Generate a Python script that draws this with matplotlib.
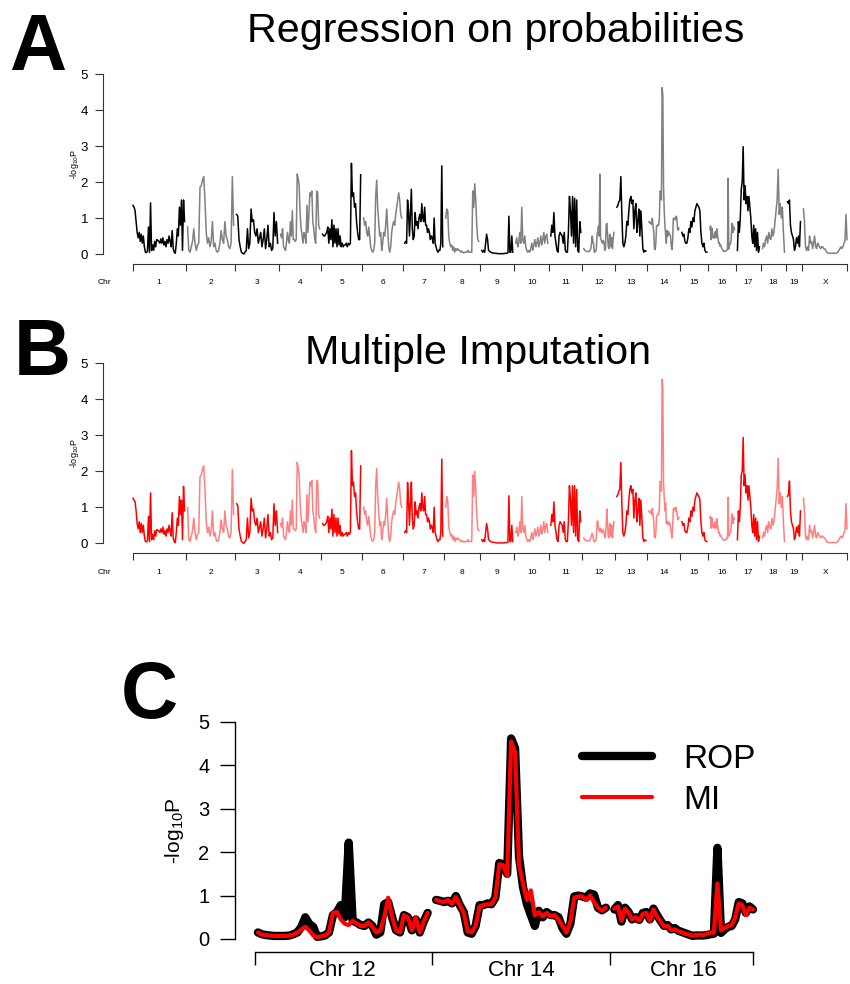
import matplotlib
matplotlib.use("Agg")
import matplotlib.pyplot as plt
import numpy as np

plt.rcParams["font.family"] = ["Liberation Sans", "DejaVu Sans"]
plt.rcParams["mathtext.default"] = "regular"

W, H = 850, 984

CHROMS = ["1", "2", "3", "4", "5", "6", "7", "8", "9", "10",
          "11", "12", "13", "14", "15", "16", "17", "18", "19", "X"]
CHR_LEN = [103, 92, 82, 78, 76, 76, 76, 66, 62, 64,
           60, 60, 58, 60, 50, 49, 44, 44, 26, 87]
GAP = 6

# -log10 P, regression on probabilities (ROP)
rop_1 = [1.35, 1.3, 1.2, 0.9, 0.6, 0.45, 0.6, 0.35, 0.55, 0.3, 0.5, 0.2, 0.05, 0.04, 0.08, 0.75, 0.05,
         1.42, 0.1, 0.25, 0.1, 0.35, 0.2, 0.4, 0.38, 0.35, 0.3, 0.42, 0.3, 0.45, 0.25, 0.35, 0.2, 0.4,
         0.3, 0.5, 0.35, 0.2, 0.65, 0.15, 0.05, 0.02, 0.3, 0.7, 0.5, 1.3, 0.8, 1.5, 0.1, 1.5, 0.9]
rop_2 = [0.75, 0.1, 0.05, 0.2, 0.35, 0.7, 0.3, 0.1, 0.25, 0.3, 1.85, 1.9, 2.05, 2.15, 1.5, 0.6, 0.3,
         0.45, 0.2, 0.35, 0.9, 0.2, 0.3, 0.1, 0.05, 0.1, 0.3, 0.65, 0.4, 0.3, 0.9, 0.5, 0.4, 0.2, 0.15,
         0.3, 2.15, 0.8]
rop_3 = [1.1, 1.05, 0.4, 0.2, 0.05, 0.02, 0.0, 0.05, 0.1, 0.7, 0.15, 0.3, 1.25, 0.9, 0.95, 0.6, 0.5,
         0.7, 0.3, 0.45, 0.6, 0.2, 0.4, 0.7, 0.15, 0.4, 0.8, 0.2, 0.3, 0.1, 0.15, 1.15, 0.5, 0.9, 0.3]
rop_4 = [0.55, 0.45, 0.7, 0.2, 0.15, 0.1, 0.3, 0.6, 0.4, 0.3, 0.9, 0.5, 1.2, 0.4, 0.4, 0.35, 0.4,
         2.22, 2.1, 1.9, 1.1, 0.7, 0.5, 0.3, 0.6, 0.5, 0.3, 1.35, 0.6, 1.1, 1.7, 1.6, 1.75, 0.9, 0.7,
         0.4, 0.3, 1.75, 1.7, 0.8, 0.7]
rop_5 = [0.55, 0.5, 0.5, 0.55, 0.6, 0.75, 0.3, 0.7, 0.4, 0.95, 0.2, 0.8, 0.3, 0.7, 0.2, 0.7, 0.25,
         0.5, 0.2, 0.3, 0.2, 0.25, 0.25, 0.3, 0.2, 0.3, 0.25, 0.3, 2.52, 1.6, 1.7, 1.3, 1.4, 0.9, 0.6,
         0.4, 0.4, 2.2]
rop_6 = [1.0, 0.8, 0.9, 0.6, 0.5, 0.75, 0.5, 0.2, 0.1, 0.05, 0.1, 0.3, 1.6, 2.05, 1.3, 0.9, 0.5, 0.6,
         0.1, 0.3, 0.6, 0.5, 0.8, 1.25, 0.7, 0.2, 0.05, 0.2, 0.6, 0.8, 0.9, 0.8, 1.1, 1.3, 1.5, 1.7,
         1.5, 1.1, 1.0]
rop_7 = [0.3, 0.35, 0.3, 1.5, 1.2, 0.5, 1.1, 1.8, 0.7, 0.4, 0.5, 1.15, 0.8, 0.9, 0.7, 1.0, 1.1, 0.9,
         1.4, 1.0, 0.9, 1.3, 0.8, 0.8, 0.6, 0.7, 0.6, 0.4, 0.5, 0.45, 0.3, 1.0, 0.3, 0.2, 0.1, 0.05,
         0.1, 0.1, 0.3, 2.45, 0.2]
rop_8 = [1.0, 1.25, 1.2, 0.5, 0.3, 0.2, 0.25, 0.1, 0.2, 0.05, 0.15, 0.1, 0.15, 0.1, 0.1, 0.05, 0.08,
         0.05, 0.03, 0.05, 0.05, 0.05, 0.1, 0.05, 0.06, 0.05, 0.05, 1.75, 1.3, 1.95, 1.5, 0.8, 0.4, 0.35]
rop_9 = [0.1, 0.05, 0.1, 0.05, 0.3, 0.55, 0.4, 0.1, 0.08, 0.05, 0.04, 0.03, 0.03, 0.02, 0.02, 0.02,
         0.01, 0.01, 0.01, 0.01, 0.01, 0.01, 0.01, 0.01, 0.02, 0.02, 0.02, 0.03, 1.05, 0.05, 0.05, 0.5, 0.05]
rop_10 = [0.3, 0.45, 0.2, 0.3, 0.6, 0.3, 1.3, 0.4, 0.3, 0.5, 0.2, 0.1, 0.05, 0.1, 0.05, 0.15, 0.3, 0.1,
          0.25, 0.4, 0.2, 0.3, 0.45, 0.2, 0.3, 0.5, 0.25, 0.4, 0.6, 0.3, 0.5, 0.55, 0.3]
rop_11 = [0.5, 0.8, 0.6, 1.15, 0.5, 0.3, 0.1, 0.05, 0.5, 0.6, 0.55, 0.5, 0.3, 0.6, 0.1, 0.05, 0.05,
          0.6, 1.6, 1.2, 0.5, 1.6, 0.3, 1.55, 0.2, 1.5, 0.1, 0.05, 0.9, 0.6]
rop_12 = [0.15, 0.11, 0.09, 0.08, 0.07, 0.07, 0.07, 0.07, 0.08, 0.11, 0.15, 0.28, 0.5, 0.35, 0.28,
          0.05, 0.06, 0.08, 0.15, 0.55, 0.62, 0.78, 0.5, 2.22, 0.42, 0.38, 0.32, 0.3, 0.38, 0.3, 0.1,
          0.15, 0.8, 0.85, 0.5, 0.2, 0.15, 0.55, 0.5, 0.2, 0.45, 0.15, 0.4, 0.6]
rop_13 = [1.3, 1.35, 1.45, 1.5, 2.15, 1.1, 0.3, 0.2, 0.3, 0.5, 0.9, 0.8, 1.2, 1.5, 1.6, 1.4, 1.5, 0.7,
          1.2, 1.4, 0.6, 0.9, 1.25, 0.5, 1.2, 0.7, 0.15, 0.05, 0.1, 0.08]
rop_14 = [0.9, 0.88, 0.85, 0.88, 0.82, 0.99, 0.78, 0.62, 0.15, 0.12, 0.3, 0.78, 0.78, 0.82, 0.8, 0.95,
          1.75, 1.72, 1.5, 4.62, 4.4, 1.9, 1.2, 0.8, 0.55, 0.3, 0.65, 0.5, 0.62, 0.55, 0.55, 0.5, 0.25,
          0.12, 0.35, 0.98, 1.0, 0.98, 0.95, 1.05, 1.02, 0.72, 0.66, 0.72]
rop_15 = [0.6, 0.5, 0.55, 0.35, 0.3, 0.3, 0.45, 0.7, 0.6, 0.9, 0.75, 1.0, 0.9, 1.2, 1.3, 1.4, 1.35,
          1.3, 1.2, 0.6, 0.3, 0.2, 0.3, 0.1, 0.05, 0.05]
rop_16 = [0.68, 0.78, 0.4, 0.72, 0.62, 0.45, 0.5, 0.44, 0.6, 0.62, 0.45, 0.7, 0.55, 0.42, 0.3, 0.32,
          0.22, 0.25, 0.19, 0.16, 0.13, 0.1, 0.07, 0.08, 0.08, 0.08, 0.09, 0.11, 0.12, 2.1, 0.14, 0.22,
          0.28, 0.3, 0.45, 0.85, 0.82, 0.6, 0.75, 0.68]
rop_17 = [0.1, 0.9, 0.6, 1.0, 1.8, 2.0, 2.98, 1.5, 1.9, 1.4, 1.6, 1.2, 1.6, 1.3, 1.0, 0.5, 0.3, 0.8,
          0.2, 0.7, 0.1, 0.6, 0.05, 0.2]
rop_18 = [0.15, 0.3, 0.2, 0.4, 0.5, 0.3, 0.6, 0.45, 0.4, 0.7, 0.5, 0.6, 0.9, 1.2, 1.5, 2.35, 1.1, 1.4,
          1.0, 1.3, 0.6, 0.05]
rop_19 = [1.45, 1.4, 1.5, 0.8, 0.6, 0.5, 0.4, 0.1, 0.2, 0.45, 0.3, 0.5, 0.2, 0.9]
rop_x = [1.25, 0.9, 0.2, 0.1, 0.2, 0.1, 0.5, 0.3, 0.35, 0.15, 0.3, 0.5, 0.2, 0.15, 0.3, 0.25, 0.2, 0.15,
         0.2, 0.2, 0.15, 0.15, 0.1, 0.05, 0.03, 0.02, 0.02, 0.02, 0.02, 0.02, 0.02, 0.02, 0.02, 0.03,
         0.05, 0.1, 0.15, 0.2, 0.15, 0.2, 0.3, 0.35, 1.1, 0.4]

# -log10 P, multiple imputation (MI)
mi_1 = [1.25, 1.2, 1.15, 0.9, 0.55, 0.4, 0.6, 0.3, 0.55, 0.3, 0.5, 0.2, 0.05, 0.04, 0.08, 0.75, 0.05,
        1.4, 0.1, 0.25, 0.1, 0.35, 0.2, 0.38, 0.36, 0.35, 0.3, 0.4, 0.3, 0.45, 0.25, 0.35, 0.2, 0.4,
        0.3, 0.5, 0.35, 0.2, 0.85, 0.15, 0.05, 0.02, 0.3, 0.7, 0.5, 1.3, 0.8, 1.2, 0.1, 1.58, 0.9]
mi_2 = [1.0, 0.1, 0.05, 0.2, 0.35, 0.7, 0.3, 0.1, 0.25, 0.3, 1.85, 1.9, 2.05, 2.15, 1.5, 0.6, 0.3,
        0.45, 0.2, 0.35, 0.9, 0.2, 0.3, 0.1, 0.05, 0.1, 0.3, 0.65, 0.4, 0.3, 0.9, 0.5, 0.4, 0.2, 0.15,
        0.3, 2.05, 0.8]
mi_3 = [1.1, 1.05, 0.4, 0.2, 0.05, 0.02, 0.0, 0.05, 0.1, 0.7, 0.15, 0.3, 1.25, 0.9, 0.95, 0.6, 0.5,
        0.7, 0.3, 0.45, 0.6, 0.2, 0.4, 0.7, 0.15, 0.4, 0.8, 0.2, 0.3, 0.1, 0.15, 1.1, 0.5, 0.9, 0.3]
mi_4 = [0.55, 0.45, 0.7, 0.2, 0.15, 0.1, 0.3, 0.6, 0.4, 0.3, 0.9, 0.5, 1.2, 0.4, 0.4, 0.35, 0.4,
        2.25, 2.1, 1.9, 1.1, 0.7, 0.5, 0.3, 0.6, 0.5, 0.3, 1.35, 0.6, 1.1, 1.7, 1.6, 1.75, 0.9, 0.7,
        0.4, 0.3, 1.75, 1.7, 0.8, 0.7]
mi_5 = [0.55, 0.5, 0.5, 0.55, 0.6, 0.75, 0.3, 0.7, 0.4, 0.95, 0.2, 0.8, 0.3, 0.7, 0.2, 0.7, 0.25,
        0.5, 0.2, 0.3, 0.2, 0.25, 0.25, 0.3, 0.2, 0.3, 0.25, 0.3, 2.57, 1.6, 1.7, 1.3, 1.4, 0.9, 0.6,
        0.4, 0.4, 2.15]
mi_6 = [1.0, 0.8, 0.9, 0.6, 0.5, 0.75, 0.5, 0.2, 0.1, 0.05, 0.1, 0.3, 1.6, 2.08, 1.3, 0.9, 0.5, 0.6,
        0.1, 0.3, 0.6, 0.5, 0.8, 1.25, 0.7, 0.2, 0.05, 0.2, 0.6, 0.8, 0.9, 0.8, 1.1, 1.3, 1.5, 1.7,
        1.5, 1.1, 1.0]
mi_7 = [0.3, 0.35, 0.3, 1.69, 1.2, 0.5, 1.1, 1.7, 0.7, 0.4, 0.5, 1.15, 0.8, 0.9, 0.7, 1.0, 1.1, 0.9,
        1.4, 1.0, 0.9, 1.3, 0.8, 0.8, 0.6, 0.7, 0.6, 0.4, 0.5, 0.45, 0.3, 1.0, 0.3, 0.2, 0.1, 0.05,
        0.1, 0.1, 0.3, 2.34, 0.2]
mi_8 = [1.0, 1.3, 1.2, 0.5, 0.3, 0.2, 0.25, 0.1, 0.2, 0.05, 0.15, 0.1, 0.15, 0.1, 0.1, 0.05, 0.08,
        0.05, 0.03, 0.05, 0.05, 0.05, 0.1, 0.05, 0.06, 0.05, 0.05, 1.9, 1.3, 2.0, 1.5, 0.8, 0.4, 0.35]
mi_9 = [0.1, 0.05, 0.1, 0.05, 0.3, 0.55, 0.4, 0.1, 0.08, 0.05, 0.04, 0.03, 0.03, 0.02, 0.02, 0.02,
        0.01, 0.01, 0.01, 0.01, 0.01, 0.01, 0.01, 0.01, 0.02, 0.02, 0.02, 0.03, 1.32, 0.05, 0.05, 0.5, 0.05]
mi_10 = [0.3, 0.45, 0.2, 0.3, 0.6, 0.3, 1.3, 0.4, 0.3, 0.5, 0.2, 0.1, 0.05, 0.1, 0.05, 0.15, 0.3, 0.1,
         0.25, 0.4, 0.2, 0.3, 0.45, 0.2, 0.3, 0.5, 0.25, 0.4, 0.6, 0.3, 0.5, 0.55, 0.3]
mi_11 = [0.5, 0.8, 0.6, 1.15, 0.5, 0.3, 0.1, 0.05, 0.5, 0.6, 0.55, 0.5, 0.3, 0.6, 0.1, 0.05, 0.05,
         0.6, 1.6, 1.2, 0.5, 1.6, 0.3, 1.6, 0.2, 1.5, 0.1, 0.05, 0.9, 0.6]
mi_12 = [0.15, 0.1, 0.09, 0.08, 0.07, 0.07, 0.07, 0.07, 0.08, 0.1, 0.15, 0.22, 0.28, 0.2, 0.08, 0.04,
         0.06, 0.08, 0.15, 0.6, 0.62, 0.45, 0.35, 0.32, 0.42, 0.36, 0.3, 0.3, 0.38, 0.28, 0.15, 0.2,
         0.5, 0.95, 0.5, 0.2, 0.15, 0.55, 0.5, 0.2, 0.5, 0.15, 0.4, 0.6]
mi_13 = [1.3, 1.35, 1.45, 1.5, 2.25, 1.1, 0.3, 0.2, 0.3, 0.5, 0.9, 0.8, 1.2, 1.5, 1.6, 1.4, 1.5, 0.7,
         1.2, 1.4, 0.6, 0.9, 1.25, 0.5, 1.2, 0.7, 0.15, 0.05, 0.1, 0.08]
mi_14 = [0.9, 0.87, 0.85, 0.9, 0.8, 0.97, 0.78, 0.6, 0.18, 0.15, 0.3, 0.75, 0.78, 0.8, 0.8, 0.95,
         1.72, 1.7, 1.45, 4.55, 4.3, 1.7, 1.28, 0.9, 1.12, 0.55, 0.62, 0.52, 0.6, 0.52, 0.55, 0.45,
         0.3, 0.15, 0.4, 0.95, 0.98, 0.98, 0.9, 1.0, 0.85, 0.72, 0.65, 0.72]
mi_15 = [0.6, 0.5, 0.55, 0.35, 0.3, 0.3, 0.45, 0.7, 0.6, 0.9, 0.75, 1.0, 0.9, 1.2, 1.3, 1.4, 1.35,
         1.3, 1.2, 0.6, 0.3, 0.2, 0.3, 0.1, 0.05, 0.05]
mi_16 = [0.7, 0.75, 0.42, 0.7, 0.6, 0.45, 0.5, 0.42, 0.58, 0.6, 0.42, 0.68, 0.52, 0.4, 0.28, 0.3, 0.2,
         0.22, 0.18, 0.15, 0.12, 0.1, 0.08, 0.09, 0.1, 0.09, 0.12, 0.15, 0.14, 1.28, 0.2, 0.25, 0.3,
         0.32, 0.5, 0.82, 0.78, 0.55, 0.72, 0.68]
mi_17 = [0.1, 0.9, 0.6, 1.0, 1.9, 2.0, 2.94, 1.6, 1.9, 1.4, 1.6, 1.2, 1.6, 1.3, 1.0, 0.5, 0.3, 0.8,
         0.2, 0.7, 0.1, 0.6, 0.05, 0.2]
mi_18 = [0.15, 0.3, 0.2, 0.4, 0.5, 0.3, 0.6, 0.45, 0.4, 0.7, 0.5, 0.6, 0.9, 1.2, 1.5, 2.36, 1.1, 1.4,
         1.0, 1.3, 0.6, 0.05]
mi_19 = [1.3, 1.35, 1.73, 0.9, 0.6, 0.5, 0.4, 0.1, 0.2, 0.45, 0.3, 0.5, 0.2, 0.9]
mi_x = [1.25, 0.9, 0.2, 0.1, 0.2, 0.1, 0.5, 0.3, 0.35, 0.15, 0.3, 0.5, 0.2, 0.15, 0.3, 0.25, 0.2, 0.15,
        0.2, 0.2, 0.15, 0.15, 0.1, 0.05, 0.03, 0.02, 0.02, 0.02, 0.02, 0.02, 0.02, 0.02, 0.02, 0.03,
        0.05, 0.1, 0.15, 0.2, 0.15, 0.2, 0.3, 0.35, 1.1, 0.4]

ROP = [rop_1, rop_2, rop_3, rop_4, rop_5, rop_6, rop_7, rop_8, rop_9, rop_10,
       rop_11, rop_12, rop_13, rop_14, rop_15, rop_16, rop_17, rop_18, rop_19, rop_x]
MI = [mi_1, mi_2, mi_3, mi_4, mi_5, mi_6, mi_7, mi_8, mi_9, mi_10,
      mi_11, mi_12, mi_13, mi_14, mi_15, mi_16, mi_17, mi_18, mi_19, mi_x]

ZOOM_CHR = ["12", "14", "16"]
ZOOM_GAP = 3


def px_axes(fig, left, top, right, bottom):
    return fig.add_axes([left / W, 1 - bottom / H, (right - left) / W, (bottom - top) / H])


def layout(lengths, gap):
    starts = np.concatenate([[0], np.cumsum(np.array(lengths[:-1]) + gap)])
    ends = starts + np.array(lengths)
    return starts, ends


def genome_panel(ax, series, colors):
    starts, ends = layout(CHR_LEN, GAP)
    for i, vals in enumerate(series):
        x = np.linspace(starts[i], ends[i], len(vals))
        ax.plot(x, vals, color=colors[i % 2], lw=1.1, solid_joinstyle="round")

    ax.set_xlim(-60, 1431)
    ax.set_ylim(-0.55, 5.2)
    for s in ["top", "right"]:
        ax.spines[s].set_visible(False)
    ax.spines["left"].set_bounds(0, 5)
    ax.spines["bottom"].set_position(("data", -0.28))
    ax.spines["bottom"].set_bounds(0, ends[-1])
    for s in ["left", "bottom"]:
        ax.spines[s].set_linewidth(0.8)
        ax.spines[s].set_color("#333333")

    ax.set_yticks(range(6))
    ax.tick_params(axis="y", length=5.8, width=0.8, pad=5, labelsize=9.5, color="#333333")
    bounds = [0] + list((ends[:-1] + starts[1:]) / 2) + [ends[-1]]
    ax.set_xticks(bounds, [""] * len(bounds))
    ax.tick_params(axis="x", which="major", length=5, width=0.8, color="#333333")
    mids = [-58] + list((starts + ends) / 2)
    ax.set_xticks(mids, ["Chr"] + CHROMS, minor=True)
    ax.tick_params(axis="x", which="minor", length=0, pad=11, labelsize=6)
    ax.set_ylabel("-log$_{10}$P", fontsize=6.5)
    ax.yaxis.set_label_coords(-0.03, 0.53)


fig = plt.figure(figsize=(W / 100, H / 100), dpi=100)

ax_a = px_axes(fig, 103, 66.8, 849, 273.8)
genome_panel(ax_a, ROP, ["#000000", "#808080"])
ax_b = px_axes(fig, 103, 356.1, 849, 563.1)
genome_panel(ax_b, MI, ["#ff0000", "#ff8080"])

fig.text(9 / W, 1 - 70 / H, "A", fontsize=57, fontweight="bold", ha="left", va="baseline")
fig.text(14 / W, 1 - 375 / H, "B", fontsize=57, fontweight="bold", ha="left", va="baseline")
fig.text(121 / W, 1 - 718 / H, "C", fontsize=57, fontweight="bold", ha="left", va="baseline")
fig.text(496 / W, 1 - 42 / H, "Regression on probabilities", fontsize=29.7, ha="center", va="baseline")
fig.text(478 / W, 1 - 364 / H, "Multiple Imputation", fontsize=29.7, ha="center", va="baseline")

# panel C: close-up of chromosomes 12, 14 and 16
ax_c = px_axes(fig, 235, 713.3, 850, 958.5)
idx = [CHROMS.index(c) for c in ZOOM_CHR]
zstarts, zends = layout([CHR_LEN[i] for i in idx], ZOOM_GAP)
for k, i in enumerate(idx):
    x = np.linspace(zstarts[k], zends[k], len(ROP[i]))
    ax_c.plot(x, ROP[i], color="black", lw=6, solid_capstyle="round", solid_joinstyle="round",
              label="ROP" if k == 0 else None)
for k, i in enumerate(idx):
    x = np.linspace(zstarts[k], zends[k], len(MI[i]))
    ax_c.plot(x, MI[i], color="#ff0000", lw=3, solid_capstyle="round", solid_joinstyle="round",
              label="MI" if k == 0 else None)

ax_c.set_xlim(-8.1, 209.3)
ax_c.set_ylim(-0.45, 5.2)
for s in ["top", "right"]:
    ax_c.spines[s].set_visible(False)
ax_c.spines["left"].set_bounds(0, 5)
ax_c.spines["bottom"].set_position(("data", -0.3))
ax_c.spines["bottom"].set_bounds(-1, zends[-1])
for s in ["left", "bottom"]:
    ax_c.spines[s].set_linewidth(1.0)
ax_c.set_yticks(range(6))
ax_c.tick_params(axis="y", length=10.5, width=1.0, pad=8, labelsize=14.5)
zb = [-1] + list((zends[:-1] + zstarts[1:]) / 2) + [zends[-1]]
ax_c.set_xticks(zb, [""] * len(zb))
ax_c.tick_params(axis="x", which="major", length=9.5, width=1.0)
ax_c.set_xticks((zstarts + zends) / 2, ["Chr " + c for c in ZOOM_CHR], minor=True)
ax_c.tick_params(axis="x", which="minor", length=0, pad=6, labelsize=16)
ax_c.set_ylabel("-log$_{10}$P", fontsize=15)
ax_c.yaxis.set_label_coords(-0.08, 0.522)

ax_c.legend(loc="upper left", bbox_to_anchor=(582 / W, 1 - 744 / H), bbox_transform=fig.transFigure,
            frameon=False, fontsize=24, borderpad=0, borderaxespad=0, handlelength=2.1,
            handletextpad=0.95, labelspacing=0.3)

fig.savefig("out.png", dpi=100)
